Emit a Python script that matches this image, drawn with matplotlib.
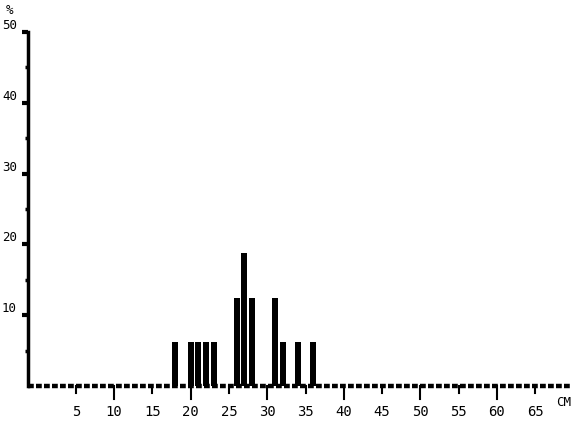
import matplotlib
matplotlib.use("Agg")
import matplotlib.pyplot as plt
import numpy as np

# Data: size class (cm) and percentage
sizes = [18, 20, 21, 22, 23, 26, 27, 28, 31, 32, 34, 36]
percent = [6.25, 6.25, 6.25, 6.25, 6.25, 12.5, 18.75, 12.5, 12.5, 6.25, 6.25, 6.25]
xtick_vals = [5, 10, 15, 20, 25, 30, 35, 40, 45, 50, 55, 60, 65]
ytick_vals = [10, 20, 30, 40, 50]

plt.rcParams['font.family'] = ['DejaVu Sans Mono']

fig = plt.figure(figsize=(5.75, 4.21), dpi=100)
ax = fig.add_axes([28/575, 1-386/421, (572-28)/575, (386-32)/421])
ax.set_xlim(-1.25, 69.8)
ax.set_ylim(0, 50)

ax.bar(sizes, percent, width=0.8, color='black', zorder=3)

# spines
for s in ['top', 'right']:
    ax.spines[s].set_visible(False)
ax.spines['left'].set_linewidth(2.5)
ax.spines['bottom'].set_visible(False)
ax.plot([-1.25, 69.8], [0, 0], color='black', lw=3.2, ls=(0, (1.3, 0.5)),
        solid_capstyle='butt', dash_capstyle='butt', clip_on=False, zorder=4)

# x ticks
ax.set_xticks(xtick_vals)
ax.set_xticklabels([str(v) for v in xtick_vals], fontsize=10)
ax.tick_params(axis='x', direction='out', length=0, pad=14)
for v in xtick_vals:
    L = 1.9 if v % 10 == 0 else 1.0
    ax.plot([v, v], [0, -L], color='black', lw=1.5, clip_on=False)

# y ticks
ax.set_yticks(ytick_vals)
ax.set_yticklabels([str(v) for v in ytick_vals], fontsize=9)
ax.set_yticks(np.arange(5, 50, 5), minor=True)
ax.tick_params(axis='y', which='major', direction='out', length=4, width=3, pad=4)
ax.tick_params(axis='y', which='minor', direction='out', length=2, width=2.5)
for lab in ax.get_yticklabels():
    lab.set_verticalalignment('bottom')

fig.text(10/575, 1-10/421, '%', fontsize=9, ha='center', va='center')
fig.text(564/575, 1-402/421, 'CM', fontsize=9, ha='center', va='center')

fig.savefig('out.png', dpi=100, facecolor='white')
